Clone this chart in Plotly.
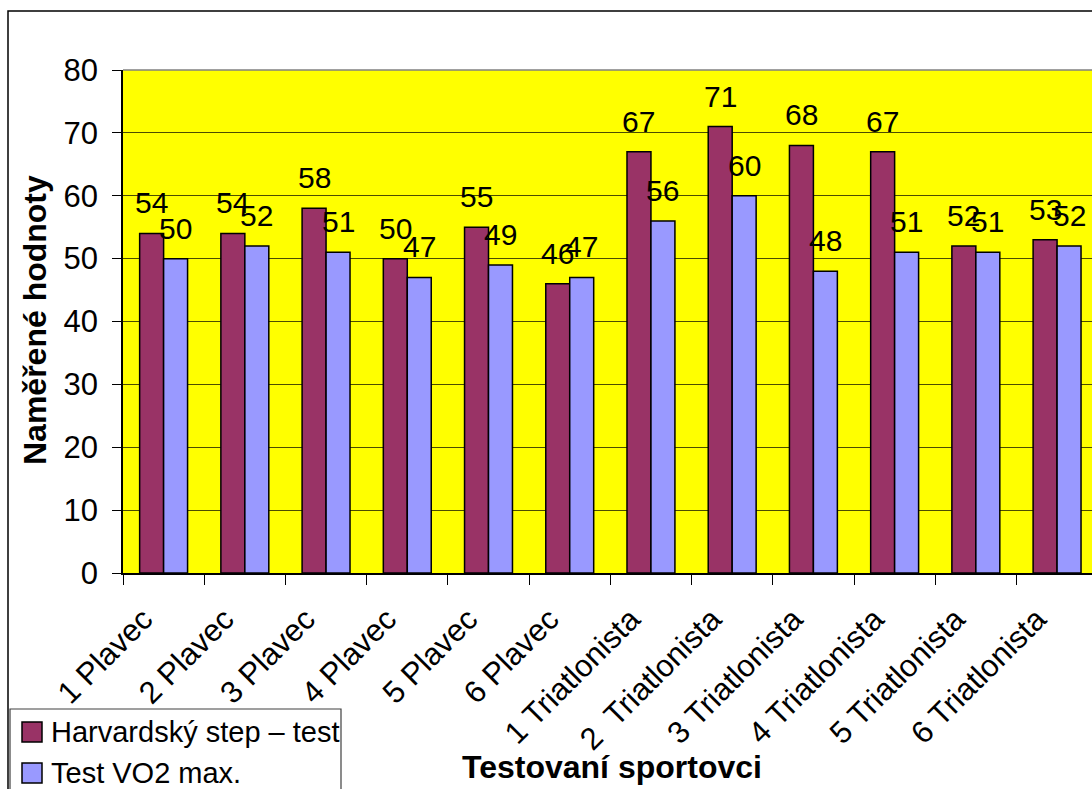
import plotly.graph_objects as go

# Tested athletes and their measured values
athletes = [
    "1 Plavec", "2 Plavec", "3 Plavec", "4 Plavec", "5 Plavec", "6 Plavec",
    "1 Triatlonista", "2  Triatlonista", "3 Triatlonista", "4 Triatlonista",
    "5 Triatlonista", "6 Triatlonista",
]
harvard_step = [54, 54, 58, 50, 55, 46, 67, 71, 68, 67, 52, 53]
vo2_max = [50, 52, 51, 47, 49, 47, 56, 60, 48, 51, 51, 52]

series_names = ["Harvardský step – test", "Test VO2 max."]
series_colors = ["#993366", "#9999FF"]
y_ticks = [0, 10, 20, 30, 40, 50, 60, 70, 80]

W, H = 1092, 789
L, R, T, B = 123, 0, 70, 216
PW, PH = W - L - R, H - T - B
FONT = "Liberation Sans, Arial, sans-serif"
FS_TICK = 31   # axis tick labels
FS_VAL = 30    # bar value labels
FS_LEG = 29    # legend entries
FS_B = 32      # bold axis titles


def px_x(x):
    return (x - L) / PW


def px_y(y):
    return (H - B - y) / PH


fig = go.Figure()
for name, vals, col in zip(series_names, [harvard_step, vo2_max], series_colors):
    fig.add_trace(go.Bar(
        x=athletes, y=vals, name=name,
        marker=dict(color=col, line=dict(color="black", width=1.5)),
        showlegend=False,
    ))

# value labels above each bar
annotations = []
for vals, shift in [(harvard_step, -12), (vo2_max, 12)]:
    for cat, v in zip(athletes, vals):
        annotations.append(dict(
            x=cat, y=v, xref="x", yref="y", text=str(v), showarrow=False,
            xanchor="center", yanchor="bottom", xshift=shift, yshift=12,
            font=dict(family=FONT, size=FS_VAL, color="black"),
        ))

# axis titles
annotations.append(dict(
    x=px_x(612), y=px_y(767), xref="paper", yref="paper",
    text="<b>Testovaní sportovci</b>", showarrow=False,
    xanchor="center", yanchor="middle",
    font=dict(family=FONT, size=FS_B, color="black"),
))
annotations.append(dict(
    x=px_x(35), y=px_y(320), xref="paper", yref="paper",
    text="<b>Naměřené hodnoty</b>", showarrow=False, textangle=-90,
    xanchor="center", yanchor="middle",
    font=dict(family=FONT, size=FS_B, color="black"),
))

shapes = [
    # outer chart frame
    dict(type="rect", xref="paper", yref="paper",
         x0=px_x(8), x1=px_x(1200), y0=px_y(11), y1=px_y(900),
         line=dict(color="black", width=1.5), fillcolor="rgba(0,0,0,0)", layer="above"),
    # top edge of plot area
    dict(type="line", xref="paper", yref="paper",
         x0=0, x1=1, y0=1, y1=1, line=dict(color="#808080", width=1.5)),
    # legend frame
    dict(type="rect", xref="paper", yref="paper",
         x0=px_x(10), x1=px_x(341), y0=px_y(709), y1=px_y(900),
         line=dict(color="#404040", width=1.2), fillcolor="white", layer="above"),
]

# legend entries
for i, (name, col) in enumerate(zip(series_names, series_colors)):
    top = 722 + i * 41
    shapes.append(dict(
        type="rect", xref="paper", yref="paper",
        x0=px_x(22), x1=px_x(42), y0=px_y(top), y1=px_y(top + 20),
        line=dict(color="black", width=1.5), fillcolor=col, layer="above",
    ))
    annotations.append(dict(
        x=px_x(49), y=px_y(top + 10), xref="paper", yref="paper",
        text=name, showarrow=False, xanchor="left", yanchor="middle",
        font=dict(family=FONT, size=FS_LEG, color="black"),
    ))

fig.update_layout(
    width=W, height=H,
    margin=dict(l=L, r=R, t=T, b=B, pad=0),
    paper_bgcolor="white", plot_bgcolor="#FFFF00",
    barmode="group", bargap=0.41, bargroupgap=0.0,
    font=dict(family=FONT, size=FS_TICK, color="black"),
    shapes=shapes, annotations=annotations,
    showlegend=False,
)
fig.update_xaxes(
    type="category", range=[-0.5, 11.43],
    tickangle=-45, tickson="boundaries", ticks="outside", ticklen=10,
    tickcolor="black", showline=True, linecolor="black", linewidth=1.5,
    showgrid=False, tickfont=dict(family=FONT, size=FS_TICK),
    ticklabelstandoff=14, ticklabelshift=-20,
)
fig.update_yaxes(
    range=[0, 80], tickvals=y_ticks, ticks="outside", ticklen=9,
    tickcolor="black", showline=True, linecolor="black", linewidth=1.5,
    showgrid=True, gridcolor="rgba(0,0,0,0.7)", gridwidth=1,
    zeroline=False, tickfont=dict(family=FONT, size=FS_TICK),
    ticklabelstandoff=8,
)

fig.write_html("out.html")
